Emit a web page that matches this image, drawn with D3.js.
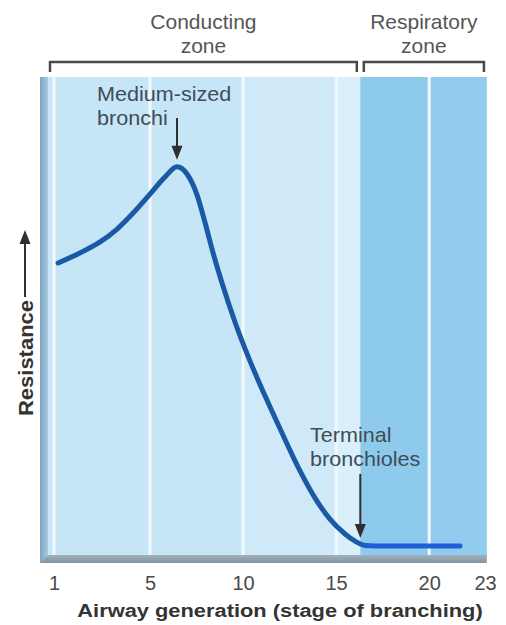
<!DOCTYPE html>
<html>
<head>
<meta charset="utf-8">
<script src="https://cdn.jsdelivr.net/npm/d3@7"></script>
<style>
  html, body { margin: 0; padding: 0; background: #fff; }
  text { font-family: "Liberation Sans", Arial, Helvetica, sans-serif; }
</style>
</head>
<body>
<div id="chart"></div>
<script>
// airway generation vs resistance
var generation = [1.17, 2.08, 2.92, 3.63, 4.29, 5.0, 5.81, 6.45, 6.99, 7.53, 7.96, 8.39, 8.87, 9.57, 10.37, 11.18, 11.99, 13.06, 13.87, 14.67, 15.48, 16.02, 16.56, 17.09, 21.66];
var resistance = [61.1, 63.2, 65.5, 68.2, 71.5, 75.5, 79.1, 81.2, 79.7, 75.3, 69.5, 63.2, 56.9, 48.7, 40.6, 33.3, 26.4, 17.6, 11.9, 7.5, 4.4, 2.9, 2.0, 1.9, 1.9];

var tickLabels = [1, 5, 10, 15, 20, 23];
var gridGens = [1, 5, 10, 15, 20];
var bandEdges = [0.75, 5, 10, 15, 16.3, 20, 23.1];

var zoneNames = [["Conducting", "zone"], ["Respiratory", "zone"]];
var zoneStart = [0.75, 16.38];
var zoneEnd = [16.22, 23.05];

var noteText = [["Medium-sized", "bronchi"], ["Terminal", "bronchioles"]];
var noteGen = [6.45, 16.3];
var noteValue = [81.2, 2.1];

var width = 506, height = 625;
var top_ = 77, bottom = 555;

var svg = d3.select("#chart").append("svg")
    .attr("width", width)
    .attr("height", height);

// first stretch of the axis (1..5) is drawn wider than the rest
var x = d3.scaleLinear().domain([1, 5, 23]).range([54, 150, 485]);
var y = d3.scaleLinear().domain([0, 100]).range([bottom, top_]);

var bandColors = ["#c6e5f7", "#c6e5f7", "#cfe9f8", "#d9eff9", "#8ecaec", "#91ccee"];

svg.append("g").selectAll("rect")
    .data(d3.pairs(bandEdges))
    .enter().append("rect")
    .attr("x", function(d) { return x(d[0]); })
    .attr("y", top_)
    .attr("width", function(d) { return x(d[1]) - x(d[0]); })
    .attr("height", bottom - top_)
    .attr("fill", function(d, i) { return bandColors[i]; });

svg.append("g").selectAll("line")
    .data(gridGens)
    .enter().append("line")
    .attr("x1", function(d) { return x(d); })
    .attr("x2", function(d) { return x(d); })
    .attr("y1", top_)
    .attr("y2", bottom)
    .attr("stroke", "#f2f9fd")
    .attr("stroke-width", 3);

// frame: bottom bar and left bar with a bevelled corner
var defs = svg.append("defs");
var lg = defs.append("linearGradient").attr("id", "leftbar")
    .attr("x1", "0").attr("x2", "1").attr("y1", "0").attr("y2", "0");
lg.append("stop").attr("offset", "0").attr("stop-color", "#7fa3bf");
lg.append("stop").attr("offset", "1").attr("stop-color", "#a9cce4");

var bg = defs.append("linearGradient").attr("id", "botbar")
    .attr("x1", "0").attr("x2", "0").attr("y1", "0").attr("y2", "1");
bg.append("stop").attr("offset", "0").attr("stop-color", "#9fb1ba");
bg.append("stop").attr("offset", "1").attr("stop-color", "#8595a0");

svg.append("rect")
    .attr("x", 40).attr("y", bottom)
    .attr("width", x(23.1) - 40).attr("height", 8)
    .attr("fill", "url(#botbar)");
svg.append("path")
    .attr("d", "M40," + top_ + "L48," + top_ + "L48," + bottom + "L40," + (bottom + 8) + "Z")
    .attr("fill", "url(#leftbar)");

// the curve
var pts = d3.zip(generation, resistance);
var cg = defs.append("linearGradient").attr("id", "curvecol")
    .attr("gradientUnits", "userSpaceOnUse")
    .attr("x1", x(15.8)).attr("x2", x(17)).attr("y1", 0).attr("y2", 0);
cg.append("stop").attr("offset", "0").attr("stop-color", "#1a5aa4");
cg.append("stop").attr("offset", "1").attr("stop-color", "#1f5fd6");

svg.append("path")
    .datum(pts)
    .attr("fill", "none")
    .attr("stroke", "url(#curvecol)")
    .attr("stroke-width", 5)
    .attr("stroke-linecap", "round")
    .attr("d", d3.line()
        .x(function(d) { return x(d[0]); })
        .y(function(d) { return y(d[1]); })
        .curve(d3.curveMonotoneX));

// stretched text helper
function label(g, txt, tx, ty, opts) {
  return g.append("text")
      .attr("transform", "translate(" + tx + "," + ty + ")" + (opts.rot ? " rotate(" + opts.rot + ")" : "") + " scale(" + (opts.sx || 1) + ",1)")
      .attr("text-anchor", opts.anchor || "start")
      .attr("font-size", opts.size || 20)
      .attr("font-weight", opts.bold ? "bold" : null)
      .attr("fill", opts.color || "#333")
      .text(txt);
}

// zone brackets
var zg = svg.append("g");
zoneNames.forEach(function(name, i) {
  var x0 = x(zoneStart[i]), x1 = x(zoneEnd[i]), cx = (x0 + x1) / 2;
  zg.append("path")
      .attr("d", "M" + (x0 + 2) + ",72V62H" + (x1 - 2) + "V72")
      .attr("fill", "none")
      .attr("stroke", "#4a4a4a")
      .attr("stroke-width", 2.5);
  label(zg, name[0], cx, 29, {anchor: "middle", sx: 1.05, color: "#555"});
  label(zg, name[1], cx, 53, {anchor: "middle", sx: 1.05, color: "#555"});
});

// annotations with arrows
var ng = svg.append("g");
var noteLeft = [97, 310];
var noteBase = [101, 442];
var arrowTop = [118, 474];
noteText.forEach(function(t, i) {
  label(ng, t[0], noteLeft[i], noteBase[i], {sx: 1.08, color: "#3e4d58"});
  label(ng, t[1], noteLeft[i], noteBase[i] + 24, {sx: 1.08, color: "#3e4d58"});
  var ax = x(noteGen[i]), tip = y(noteValue[i]) - 7;
  ng.append("line")
      .attr("x1", ax).attr("x2", ax)
      .attr("y1", arrowTop[i]).attr("y2", tip - 10)
      .attr("stroke", "#2f2f2f").attr("stroke-width", 2);
  ng.append("path")
      .attr("d", "M" + (ax - 5.5) + "," + (tip - 14) + "L" + (ax + 5.5) + "," + (tip - 14) + "L" + ax + "," + tip + "Z")
      .attr("fill", "#2f2f2f");
});

// x axis labels
var xAxis = svg.append("g")
    .attr("transform", "translate(0," + bottom + ")")
    .call(d3.axisBottom(x).tickValues(tickLabels).tickSize(0).tickFormat(d3.format("d")));
xAxis.select(".domain").remove();
xAxis.selectAll("text")
    .attr("y", 35).attr("dy", null)
    .attr("font-size", 20)
    .attr("font-family", "Liberation Sans, Arial, sans-serif")
    .attr("fill", "#4a4a4a");

label(svg, "Airway generation (stage of branching)", 280, 617, {anchor: "middle", bold: true, size: 19, sx: 1.15, color: "#333"});

// y axis title with arrow
label(svg, "Resistance", 33, 358, {anchor: "middle", bold: true, size: 20, sx: 1.1, rot: -90, color: "#333"});
svg.append("line")
    .attr("x1", 25).attr("x2", 25)
    .attr("y1", 297).attr("y2", 240)
    .attr("stroke", "#2f2f2f").attr("stroke-width", 2);
svg.append("path")
    .attr("d", "M19.5,244L30.5,244L25,230Z")
    .attr("fill", "#2f2f2f");
</script>
</body>
</html>
